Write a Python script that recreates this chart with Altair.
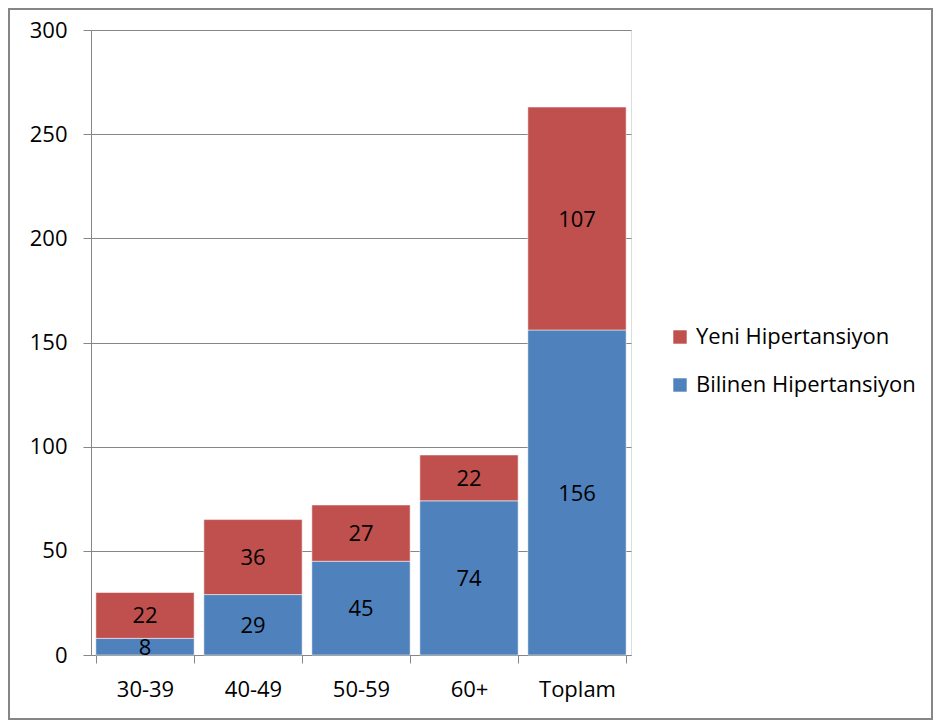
import altair as alt
import pandas as pd

categories = ["30-39", "40-49", "50-59", "60+", "Toplam"]
bilinen = [8, 29, 45, 74, 156]
yeni = [22, 36, 27, 22, 107]
series = ["Yeni Hipertansiyon", "Bilinen Hipertansiyon"]
colors = ["#C0504D", "#4F81BD"]

rows = []
for c, b, y in zip(categories, bilinen, yeni):
    rows.append({"cat": c, "series": "Bilinen Hipertansiyon", "value": b, "ord": 0})
    rows.append({"cat": c, "series": "Yeni Hipertansiyon", "value": y, "ord": 1})
df = pd.DataFrame(rows)

FONT = "Open Sans"
FS = 22
GRAY = "#868686"

x = alt.X("cat:N", sort=categories, title=None,
          scale=alt.Scale(paddingInner=0.09, paddingOuter=0.045),
          axis=alt.Axis(labelAngle=0, tickBand="extent", tickSize=8, tickColor=GRAY,
                        domainColor=GRAY, labelFontSize=FS, labelFont=FONT,
                        labelColor="black", labelPadding=16, grid=False))
y = alt.Y("value:Q", stack="zero", title=None,
          scale=alt.Scale(domain=[0, 300], nice=False),
          axis=alt.Axis(values=[0, 50, 100, 150, 200, 250, 300], tickSize=8,
                        tickColor=GRAY, domainColor=GRAY, gridColor=GRAY,
                        gridOpacity=1, labelFontSize=FS, labelFont=FONT,
                        labelColor="black", labelPadding=16))

base = alt.Chart(df)

bars = base.mark_bar(stroke="white", strokeWidth=0.5).encode(
    x=x, y=y,
    color=alt.Color("series:N", scale=alt.Scale(domain=series, range=colors),
                    legend=alt.Legend(title=None, orient="none", legendX=578, legendY=296,
                                      symbolType="square", symbolSize=180,
                                      symbolStrokeWidth=0, labelFontSize=FS,
                                      labelFont=FONT, labelColor="black", labelLimit=0,
                                      rowPadding=26, labelOffset=5)),
    order=alt.Order("ord:Q"),
)

labels = base.mark_text(fontSize=FS, font=FONT, color="black", dy=1).encode(
    x=alt.X("cat:N", sort=categories),
    y=alt.Y("value:Q", stack="zero", bandPosition=0.5),
    detail="series:N",
    order=alt.Order("ord:Q"),
    text="value:Q",
)

frame = alt.Chart(pd.DataFrame({"a": [0]})).mark_rect(
    fill=None, stroke=GRAY, strokeWidth=2).encode(
    x=alt.value(-82), x2=alt.value(841), y=alt.value(-21), y2=alt.value(689))

chart = alt.layer(bars, labels, frame).properties(
    width=540, height=625,
    padding={"left": 83, "top": 22, "right": 302, "bottom": 67},
    autosize=alt.AutoSizeParams(type="none"),
).configure_view(stroke=None).configure(background="white")

chart.save("out.html", embed_options={"renderer": "svg", "actions": False})
